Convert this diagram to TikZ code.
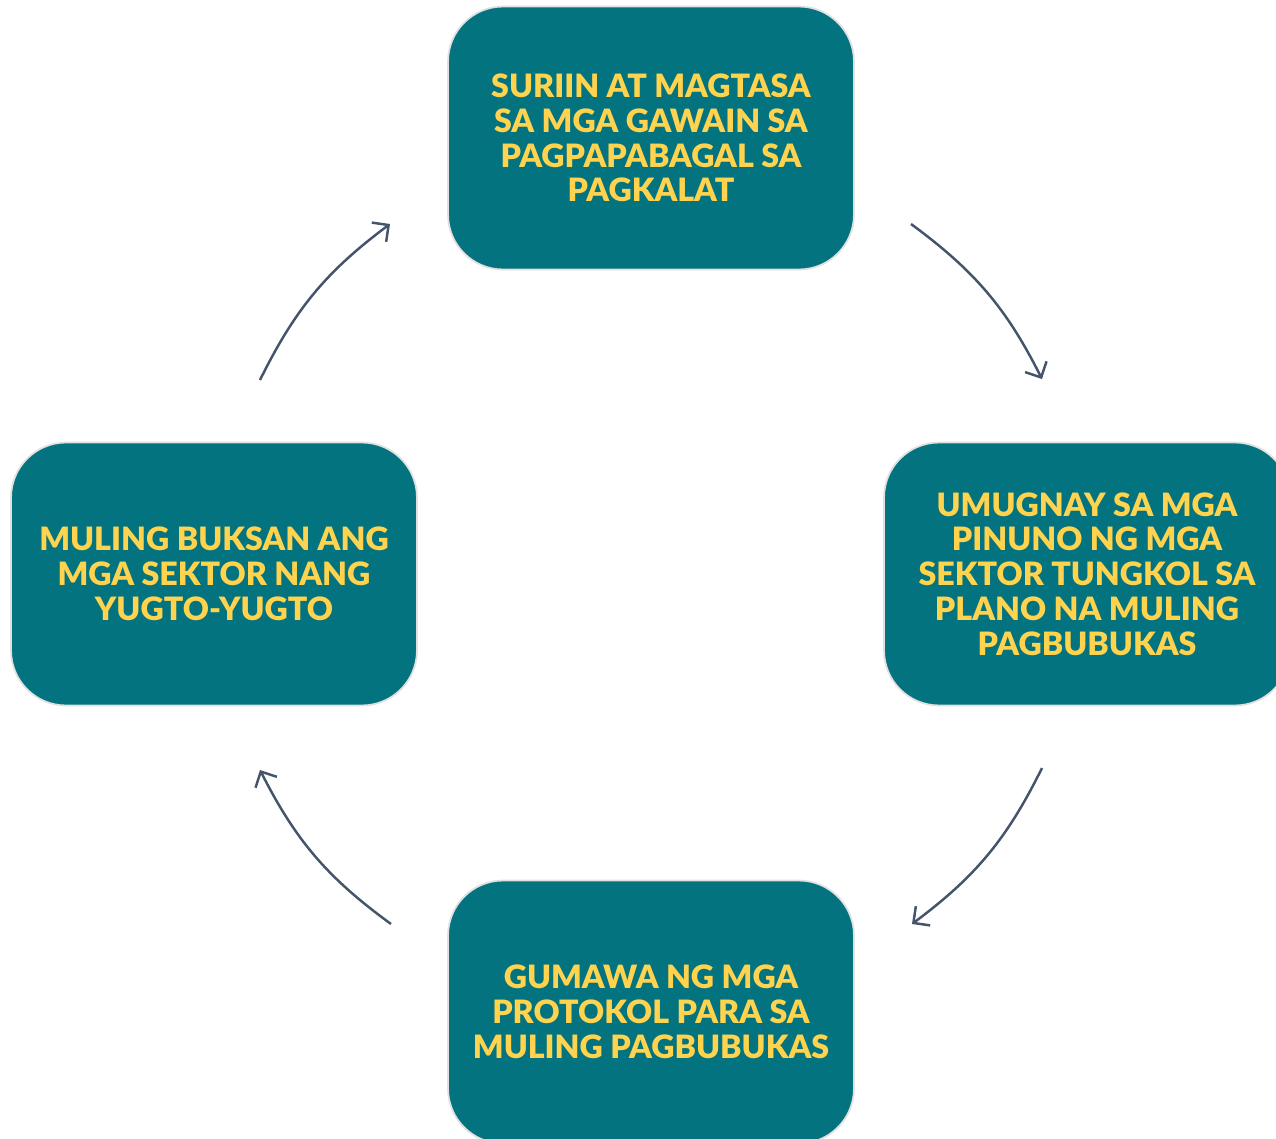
\documentclass[tikz,border=0pt]{standalone}
\usepackage{fontspec}
\setmainfont{Lato}[BoldFont={* Black}]
\usetikzlibrary{positioning, arrows.meta}
\definecolor{stepteal}{HTML}{03737F}
\definecolor{stepgold}{HTML}{FFD34E}
\definecolor{flowgray}{HTML}{44546A}

\begin{document}
\begin{tikzpicture}[
      x=0.02cm, y=-0.02cm,
      stepbox/.style = {rectangle, rounded corners=1.1cm, draw=black!12, line width=1pt,
                        fill=stepteal, minimum width=8.12cm, minimum height=5.26cm,
                        align=center, text=stepgold,
                        font=\fontsize{18.3}{19.8}\selectfont\bfseries},
      flow/.style    = {draw=flowgray, line width=1.4pt,
                        -{Straight Barb[length=2.4mm, width=4.8mm]}}
    ]
    \useasboundingbox (0,0) rectangle (1276,1139);
    \node[stepbox] (suriin) at (651,138) {SURIIN AT MAGTASA\\SA MGA GAWAIN SA\\PAGPAPABAGAL SA\\PAGKALAT};
    \node[stepbox] (umugnay) at (1087,574) {UMUGNAY SA MGA\\PINUNO NG MGA\\SEKTOR TUNGKOL SA\\PLANO NA MULING\\PAGBUBUKAS};
    \node[stepbox] (gumawa) at (651,1012) {GUMAWA NG MGA\\PROTOKOL PARA SA\\MULING PAGBUBUKAS};
    \node[stepbox] (buksan) at (214,574) {MULING BUKSAN ANG\\MGA SEKTOR NANG\\YUGTO-YUGTO};
    \coordinate (tr1) at (911,224);  \coordinate (tr2) at (1042,379);
    \coordinate (br1) at (1042,768); \coordinate (br2) at (912,924);
    \coordinate (bl1) at (391,924);  \coordinate (bl2) at (260,770);
    \coordinate (tl1) at (260,380);  \coordinate (tl2) at (390,224);
    \draw[flow] (tr1) to[bend left=13.5] (tr2);
    \draw[flow] (br1) to[bend left=13.5] (br2);
    \draw[flow] (bl1) to[bend left=13.5] (bl2);
    \draw[flow] (tl1) to[bend left=13.5] (tl2);
  \end{tikzpicture}
\end{document}
